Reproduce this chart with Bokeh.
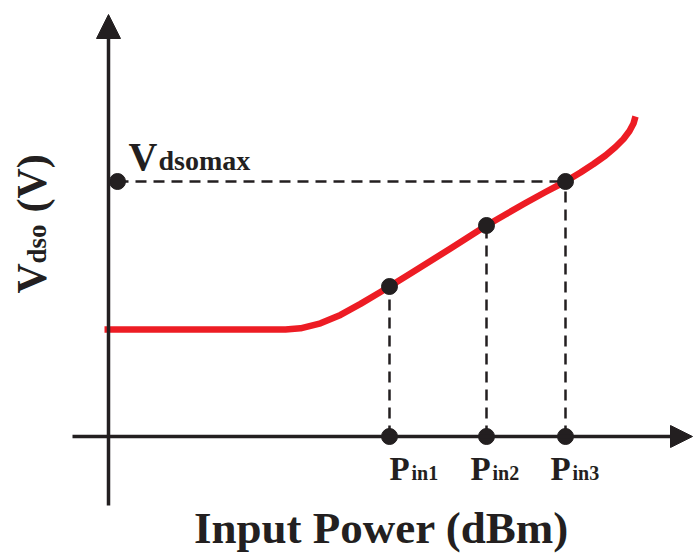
import math
from bokeh.plotting import figure
from bokeh.models import Range1d, Arrow, NormalHead, ColumnDataSource
from bokeh.core.properties import value
from bokeh.embed import file_html
from bokeh.resources import INLINE

# Schematic data (arbitrary units; origin at the axes crossing)
power = [-4, 177, 192, 212, 232, 252, 272, 281, 302, 322, 342, 360, 378, 397, 417,
         437, 457, 472, 485, 497, 507, 515, 521, 525, 527]
vdso = [107, 107, 108.2, 113.2, 121.6, 132.6, 144.5, 150, 163, 175.5, 188, 199.5, 211,
        222, 233.5, 244.5, 255, 264, 272.5, 281, 289.5, 297.5, 305.5, 313, 320]

pin_values = [281, 378, 457]
pin_vdso = [150, 211, 255]
pin_subs = ["in1", "in2", "in3"]
vdsomax = 255
vdsomax_x = 9

BLACK = "#231f20"
RED = "#ed1c24"
FONT = value("Liberation Serif")

p = figure(width=696, height=554, output_backend="svg", toolbar_location=None,
           x_range=Range1d(-108, 588), y_range=Range1d(-118, 436),
           x_axis_location=None, y_axis_location=None, min_border=0)
p.outline_line_color = None
p.xgrid.visible = False
p.ygrid.visible = False
p.background_fill_color = "white"

# dashed guide lines
p.segment(x0=[vdsomax_x], y0=[vdsomax], x1=[pin_values[-1]], y1=[vdsomax],
          line_color=BLACK, line_width=2.5, line_dash="11 7")
p.segment(x0=pin_values, y0=[0] * len(pin_values), x1=pin_values, y1=pin_vdso,
          line_color=BLACK, line_width=2.5, line_dash="11 7")

# red curve
p.line(power, vdso, line_color=RED, line_width=6.5, line_cap="butt", line_join="round")

# axes with arrowheads
p.add_layout(Arrow(end=NormalHead(size=22, fill_color=BLACK, line_color=BLACK, line_width=1),
                   x_start=-36, y_start=0, x_end=584, y_end=0,
                   line_color=BLACK, line_width=3.5))
p.add_layout(Arrow(end=NormalHead(size=24, fill_color=BLACK, line_color=BLACK, line_width=1),
                   x_start=0, y_start=-69, x_end=0, y_end=422,
                   line_color=BLACK, line_width=3.5))

# dots
p.scatter(pin_values, pin_vdso, size=16, fill_color=BLACK, line_color=BLACK)
p.scatter(pin_values, [0] * len(pin_values), size=16, fill_color=BLACK, line_color=BLACK)
p.scatter([vdsomax_x], [vdsomax], size=16, fill_color=BLACK, line_color=BLACK)

# Vdsomax label
p.text(x=[vdsomax_x], y=[vdsomax], text=["V"], x_offset=[11], y_offset=[-25],
       text_font=FONT, text_font_style="bold", text_font_size="40px",
       text_baseline="alphabetic", text_align="left", text_color=BLACK)
p.text(x=[vdsomax_x], y=[vdsomax], text=["dsomax"], x_offset=[41], y_offset=[-21],
       text_font=FONT, text_font_style="bold", text_font_size="28px",
       text_baseline="alphabetic", text_align="left", text_color=BLACK)

# Pin labels
lab_off = [0, -16, -15]
src = ColumnDataSource(dict(x=pin_values, y=[0] * 3, P=["P"] * 3, sub=pin_subs,
                            off=lab_off, off2=[o + 22 for o in lab_off]))
p.text(x="x", y="y", text="P", x_offset="off", y_offset=32, source=src,
       text_font=FONT, text_font_style="bold", text_font_size="33px",
       text_baseline="alphabetic", text_align="left", text_color=BLACK)
p.text(x="x", y="y", text="sub", x_offset="off2", y_offset=36, source=src,
       text_font=FONT, text_font_style="bold", text_font_size="20px",
       text_baseline="alphabetic", text_align="left", text_color=BLACK)

# X axis title
p.text(x=[273], y=[-106], text=["Input Power (dBm)"], y_offset=[-15],
       text_font=FONT, text_font_style="bold", text_font_size="45px",
       text_baseline="alphabetic", text_align="center", text_color=BLACK)

# Y axis title (rotated)
ang = math.pi / 2
p.text(x=[-77], y=[143], text=["V"], angle=ang,
       text_font=FONT, text_font_style="bold", text_font_size="42px",
       text_baseline="alphabetic", text_align="left", text_color=BLACK)
p.text(x=[-72], y=[173], text=["dso"], angle=ang,
       text_font=FONT, text_font_style="bold", text_font_size="27px",
       text_baseline="alphabetic", text_align="left", text_color=BLACK)
p.text(x=[-77], y=[224], text=["(V)"], angle=ang,
       text_font=FONT, text_font_style="bold", text_font_size="42px",
       text_baseline="alphabetic", text_align="left", text_color=BLACK)

open("out.html", "w").write(file_html(p, INLINE))
